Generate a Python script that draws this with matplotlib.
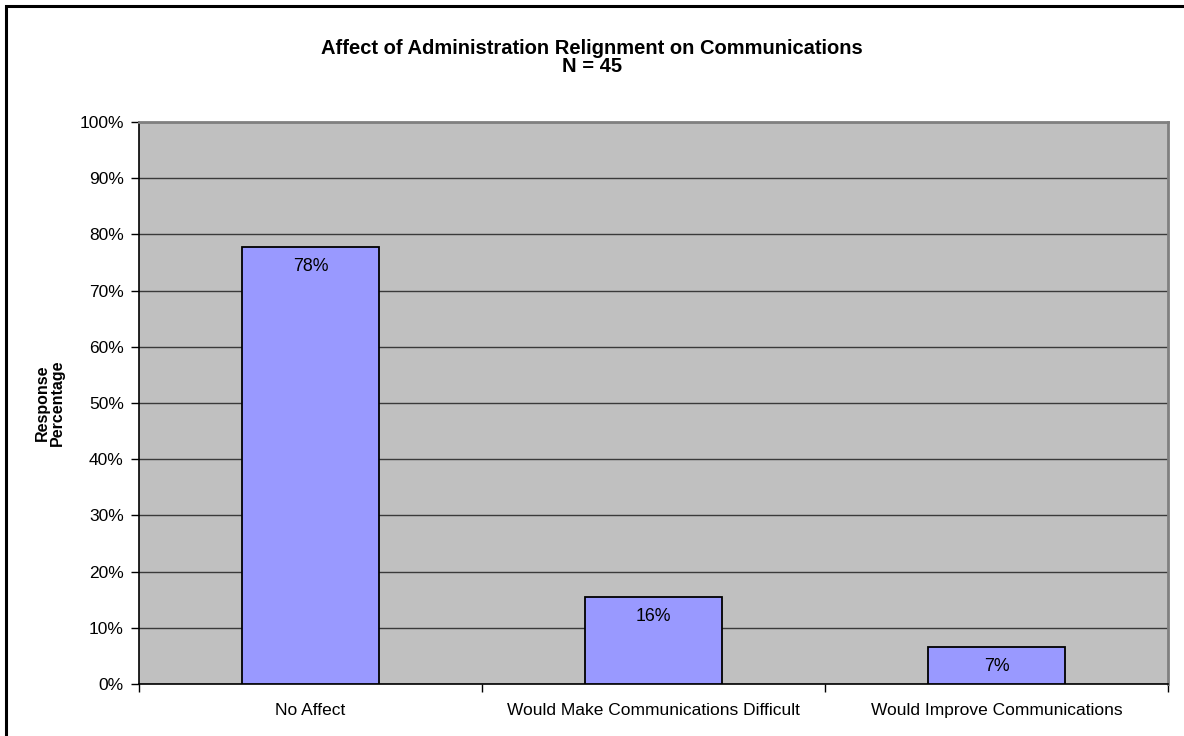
import matplotlib
matplotlib.use("Agg")
import matplotlib.pyplot as plt
import matplotlib.patches as mpatches
import matplotlib.ticker as mticker
import numpy as np

# survey responses
categories = ["No Affect", "Would Make Communications Difficult", "Would Improve Communications"]
counts = [35, 7, 3]
n_total = 45
yticks = [0, 10, 20, 30, 40, 50, 60, 70, 80, 90, 100]

pct = np.array(counts) / n_total * 100

plt.rcParams['font.family'] = ['Liberation Sans', 'DejaVu Sans']

W, H = 1184, 736
fig = plt.figure(figsize=(W / 100, H / 100), dpi=100)

# outer chart border (only top/left fall inside the image)
fig.patches.append(mpatches.Rectangle((6 / W, -0.1), 1.2, (730 / H) + 0.1,
                                      transform=fig.transFigure, fill=False,
                                      edgecolor='black', lw=2.2))

left, right, top, bottom = 139, 1168, 122, 684
ax = fig.add_axes([left / W, (H - bottom) / H, (right - left) / W, (bottom - top) / H])
ax.set_facecolor('#C0C0C0')

x = np.arange(len(categories))
ax.bar(x, pct, width=0.4, color='#9999FF', edgecolor='black', lw=1.3, zorder=3)

for xi, p in zip(x, pct):
    ax.annotate(f"{round(p)}%", (xi, p), xytext=(0, -8), textcoords='offset points',
                ha='center', va='top', fontsize=12.8, color='black', zorder=4)

ax.set_xlim(-0.5, len(categories) - 0.5)
ax.set_ylim(0, 100)
ax.set_yticks(yticks)
ax.yaxis.set_major_formatter(mticker.FuncFormatter(lambda v, _: f"{v:.0f}%"))
ax.grid(axis='y', color='#3a3a3a', lw=1.0, zorder=1)
ax.set_axisbelow(True)

ax.set_xticks(x)
ax.set_xticklabels(categories)
ax.xaxis.set_minor_locator(mticker.FixedLocator(np.arange(len(categories) + 1) - 0.5))
ax.tick_params(axis='x', which='major', length=0, pad=14, labelsize=12.5)
ax.tick_params(axis='x', which='minor', length=6, width=1, color='black', direction='out')
ax.tick_params(axis='y', length=6, width=1, color='black', direction='out', pad=5, labelsize=12.5)

for side in ('left', 'bottom'):
    ax.spines[side].set_color('black')
    ax.spines[side].set_linewidth(1.2)
for side in ('top', 'right'):
    ax.spines[side].set_color('#808080')
    ax.spines[side].set_linewidth(2)

fig.text(0.5, 1 - 48 / H, "Affect of Administration Relignment on Communications",
         ha='center', va='center', fontsize=14.5, fontweight='bold')
fig.text(0.5, 1 - 67 / H, "N = 45",
         ha='center', va='center', fontsize=14.5, fontweight='bold')

fig.text(42 / W, 1 - 403 / H, "Response", rotation=90, ha='center', va='center',
         fontsize=11.5, fontweight='bold')
fig.text(57 / W, 1 - 403 / H, "Percentage", rotation=90, ha='center', va='center',
         fontsize=11.5, fontweight='bold')

fig.savefig("out.png", dpi=100)
